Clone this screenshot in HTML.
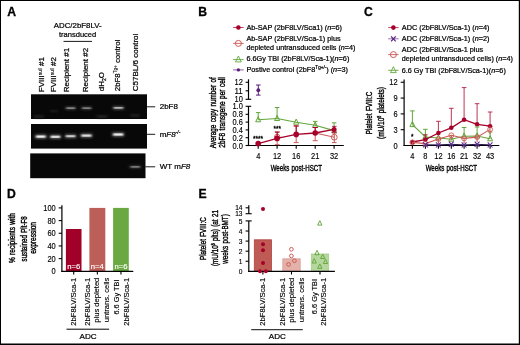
<!DOCTYPE html>
<html lang="en"><head><meta charset="utf-8"><title>Figure</title>
<style>html,body{margin:0;padding:0;background:#fff}svg{display:block}text{font-family:'Liberation Sans', sans-serif}</style>
</head><body>
<svg width="520" height="345" viewBox="0 0 520 345">
<defs><filter id="bl" x="-50%" y="-200%" width="200%" height="500%"><feGaussianBlur stdDeviation="1.0 0.75"/></filter><filter id="bl2" x="-50%" y="-200%" width="200%" height="500%"><feGaussianBlur stdDeviation="1.8 1.3"/></filter></defs>
<rect x="0" y="0" width="520" height="345" fill="#fff"/>
<rect x="0" y="0" width="520" height="1" fill="#000"/><rect x="0" y="0" width="1" height="345" fill="#000"/><rect x="518.8" y="0" width="1.2" height="345" fill="#000"/><rect x="0" y="343.5" width="520" height="1.5" fill="#000"/>
<text font-size="12.2" stroke="#000" stroke-width="0.3" font-weight="bold" x="7.2" y="15.7" >A</text>
<text font-size="12.2" stroke="#000" stroke-width="0.3" font-weight="bold" x="198.3" y="15.7" >B</text>
<text font-size="12.2" stroke="#000" stroke-width="0.3" font-weight="bold" x="363.9" y="15.8" >C</text>
<text font-size="12.2" stroke="#000" stroke-width="0.3" font-weight="bold" x="6.9" y="197.7" >D</text>
<text font-size="12.2" stroke="#000" stroke-width="0.3" font-weight="bold" x="198.5" y="197.7" >E</text>
<text font-size="8" stroke="#000" stroke-width="0.22" text-anchor="middle" textLength="47.8" lengthAdjust="spacingAndGlyphs" x="77.7" y="27.95" >ADC/2bF8LV-</text>
<text font-size="8" stroke="#000" stroke-width="0.22" text-anchor="middle" textLength="37.4" lengthAdjust="spacingAndGlyphs" x="77.6" y="37.35" >transduced</text>
<line x1="63.5" y1="41.4" x2="92" y2="41.4" stroke="#000" stroke-width="0.9" />
<text font-size="8" stroke="#000" stroke-width="0.22" transform="translate(44.2 92.2) rotate(-90)" >FVIII<tspan font-size="4.6" dy="-2.7" stroke-width="0.1">null</tspan><tspan dy="2.7"> #1</tspan></text>
<text font-size="8" stroke="#000" stroke-width="0.22" transform="translate(56.4 92.2) rotate(-90)" >FVIII<tspan font-size="4.6" dy="-2.7" stroke-width="0.1">null</tspan><tspan dy="2.7"> #2</tspan></text>
<text font-size="8" stroke="#000" stroke-width="0.22" textLength="44.3" lengthAdjust="spacingAndGlyphs" transform="translate(69.3 92.2) rotate(-90)" >Recipient #1</text>
<text font-size="8" stroke="#000" stroke-width="0.22" textLength="44.3" lengthAdjust="spacingAndGlyphs" transform="translate(87.7 92.2) rotate(-90)" >Recipient #2</text>
<text font-size="8" stroke="#000" stroke-width="0.22" transform="translate(104.4 91.2) rotate(-90)" >dH<tspan font-size="5" dy="1.6">2</tspan><tspan dy="-1.6">O</tspan></text>
<text font-size="7.85" stroke="#000" stroke-width="0.22" transform="translate(120 91.2) rotate(-90)" >2bF8<tspan font-size="4.6" dy="-2.7" stroke-width="0.1">Tg+</tspan><tspan dy="2.7"> control</tspan></text>
<text font-size="8" stroke="#000" stroke-width="0.22" textLength="57.5" lengthAdjust="spacingAndGlyphs" transform="translate(137.8 91.2) rotate(-90)" >C57BL/6 control</text>
<rect x="31" y="94.3" width="116" height="24.7" fill="#080808"/>
<rect x="31" y="124" width="116" height="24.6" fill="#080808"/>
<rect x="30.2" y="153.4" width="115.3" height="24.8" fill="#080808"/>
<rect x="65.45" y="106.45" width="10.5" height="3.3000000000000003" fill="#3c3c3c" filter="url(#bl2)"/>
<rect x="66.45" y="107.55" width="8.5" height="1.1" fill="#b4b4b4" filter="url(#bl)"/>
<rect x="81.35" y="106.45" width="10.5" height="3.3000000000000003" fill="#383838" filter="url(#bl2)"/>
<rect x="82.35" y="107.55" width="8.5" height="1.1" fill="#acacac" filter="url(#bl)"/>
<rect x="112.9" y="106.15" width="11" height="3.5" fill="#505050" filter="url(#bl2)"/>
<rect x="113.9" y="107.25" width="9" height="1.3" fill="#d8d8d8" filter="url(#bl)"/>
<rect x="34.5" y="115.25" width="9" height="2.5" fill="#242424" filter="url(#bl2)"/>
<rect x="50.0" y="109.75" width="8" height="2.5" fill="#1e1e1e" filter="url(#bl2)"/>
<rect x="97.0" y="115.25" width="10" height="2.5" fill="#262626" filter="url(#bl2)"/>
<rect x="130.5" y="114.25" width="9" height="2.5" fill="#202020" filter="url(#bl2)"/>
<rect x="35.3" y="134.4" width="11" height="4.4" fill="#6c6c6c" filter="url(#bl2)"/>
<rect x="36.3" y="135.5" width="9" height="2.2" fill="#ececec" filter="url(#bl)"/>
<rect x="49.9" y="134.6" width="11" height="4.4" fill="#646464" filter="url(#bl2)"/>
<rect x="50.9" y="135.7" width="9" height="2.2" fill="#dcdcdc" filter="url(#bl)"/>
<rect x="65.1" y="134.1" width="11" height="4.2" fill="#5c5c5c" filter="url(#bl2)"/>
<rect x="66.1" y="135.2" width="9" height="2.0" fill="#cccccc" filter="url(#bl)"/>
<rect x="80.65" y="133.4" width="11.5" height="4.4" fill="#646464" filter="url(#bl2)"/>
<rect x="81.65" y="134.5" width="9.5" height="2.2" fill="#dcdcdc" filter="url(#bl)"/>
<rect x="112.45" y="132.3" width="11.5" height="4.4" fill="#6c6c6c" filter="url(#bl2)"/>
<rect x="113.45" y="133.4" width="9.5" height="2.2" fill="#ececec" filter="url(#bl)"/>
<rect x="129.7" y="165.2" width="11" height="3.4000000000000004" fill="#343434" filter="url(#bl2)"/>
<rect x="130.7" y="166.3" width="9" height="1.2" fill="#9c9c9c" filter="url(#bl)"/>
<line x1="146.9" y1="106.8" x2="155.2" y2="106.8" stroke="#000" stroke-width="0.9" />
<line x1="146.9" y1="134.3" x2="155.2" y2="134.3" stroke="#000" stroke-width="0.9" />
<line x1="145.4" y1="166.8" x2="155.2" y2="166.8" stroke="#000" stroke-width="0.9" />
<text font-size="8" stroke="#000" stroke-width="0.22" x="159.7" y="109.3" >2bF8</text>
<text font-size="8" stroke="#000" stroke-width="0.22" x="159.7" y="136.6" >m<tspan font-style="italic">F8</tspan><tspan font-size="5" dy="-2.8" font-style="italic">-/-</tspan></text>
<text font-size="8" stroke="#000" stroke-width="0.22" x="159.7" y="169.2" >WT m<tspan font-style="italic">F8</tspan></text>
<line x1="233.1" y1="27.5" x2="243.7" y2="27.5" stroke="#C03050" stroke-width="0.9" />
<circle cx="238.4" cy="27.5" r="2.3" fill="#A6002B"/>
<text font-size="7.3" stroke="#000" stroke-width="0.22" x="246.4" y="29.8" >Ab-SAP (2bF8LV/Sca1) (<tspan font-style="italic">n</tspan>=6)</text>
<line x1="233.1" y1="43.4" x2="243.7" y2="43.4" stroke="#CC5B58" stroke-width="0.9" />
<circle cx="238.4" cy="43.4" r="3.0" fill="none" stroke="#CC5B58" stroke-width="1.0"/>
<text font-size="7.3" stroke="#000" stroke-width="0.22" x="246.4" y="41.3" >Ab-SAP (2bF8LV/Sca-1) plus</text>
<text font-size="7.3" stroke="#000" stroke-width="0.22" textLength="109.1" lengthAdjust="spacingAndGlyphs" x="246.4" y="49.6" >depleted untransduced cells (<tspan font-style="italic">n</tspan>=4)</text>
<line x1="233.1" y1="59.6" x2="243.7" y2="59.6" stroke="#64A63C" stroke-width="0.9" />
<polygon points="238.4,55.98 235.5,61.92 241.3,61.92" fill="none" stroke="#64A63C" stroke-width="0.9" stroke-linejoin="miter"/>
<text font-size="7.3" stroke="#000" stroke-width="0.22" x="246.4" y="61.4" >6.6Gy TBI (2bF8LV/Sca-1)(<tspan font-style="italic">n</tspan>=6)</text>
<line x1="233.1" y1="69.9" x2="243.7" y2="69.9" stroke="#7A4A9C" stroke-width="0.9" />
<circle cx="238.4" cy="69.9" r="1.7" fill="#5A1F7A"/>
<text font-size="7.3" stroke="#000" stroke-width="0.22" x="246.4" y="72.0" >Postive control (2bF8<tspan font-size="4.6" dy="-2.6">Tg+/-</tspan><tspan dy="2.6">) (<tspan font-style="italic">n</tspan>=3)</tspan></text>
<line x1="248.5" y1="79.3" x2="248.5" y2="99.3" stroke="#000" stroke-width="1.2" />
<line x1="248.5" y1="106.2" x2="248.5" y2="146.1" stroke="#000" stroke-width="1.2" />
<line x1="245.6" y1="99.3" x2="251.2" y2="99.3" stroke="#000" stroke-width="1.1" />
<line x1="245.6" y1="106.3" x2="251.2" y2="106.3" stroke="#000" stroke-width="1.1" />
<line x1="245.6" y1="82.3" x2="248.5" y2="82.3" stroke="#000" stroke-width="1.1" />
<line x1="245.6" y1="90.8" x2="248.5" y2="90.8" stroke="#000" stroke-width="1.1" />
<line x1="245.6" y1="145.5" x2="248.5" y2="145.5" stroke="#000" stroke-width="1.1" />
<text font-size="8.2" stroke="#000" stroke-width="0.14" text-anchor="end" textLength="10.38" lengthAdjust="spacingAndGlyphs" x="242.8" y="148.6" >0.0</text>
<line x1="245.6" y1="137.7" x2="248.5" y2="137.7" stroke="#000" stroke-width="1.1" />
<text font-size="8.2" stroke="#000" stroke-width="0.14" text-anchor="end" textLength="10.38" lengthAdjust="spacingAndGlyphs" x="242.8" y="140.79999999999998" >0.2</text>
<line x1="245.6" y1="129.9" x2="248.5" y2="129.9" stroke="#000" stroke-width="1.1" />
<text font-size="8.2" stroke="#000" stroke-width="0.14" text-anchor="end" textLength="10.38" lengthAdjust="spacingAndGlyphs" x="242.8" y="133.0" >0.4</text>
<line x1="245.6" y1="122.1" x2="248.5" y2="122.1" stroke="#000" stroke-width="1.1" />
<text font-size="8.2" stroke="#000" stroke-width="0.14" text-anchor="end" textLength="10.38" lengthAdjust="spacingAndGlyphs" x="242.8" y="125.19999999999999" >0.6</text>
<line x1="245.6" y1="114.3" x2="248.5" y2="114.3" stroke="#000" stroke-width="1.1" />
<text font-size="8.2" stroke="#000" stroke-width="0.14" text-anchor="end" textLength="10.38" lengthAdjust="spacingAndGlyphs" x="242.8" y="117.39999999999999" >0.8</text>
<text font-size="8.2" stroke="#000" stroke-width="0.14" text-anchor="end" textLength="10.38" lengthAdjust="spacingAndGlyphs" x="242.8" y="108.9" >1.0</text>
<text font-size="8.2" stroke="#000" stroke-width="0.14" text-anchor="end" textLength="8.3" lengthAdjust="spacingAndGlyphs" x="242.8" y="85.3" >12</text>
<text font-size="8.2" stroke="#000" stroke-width="0.14" text-anchor="end" textLength="8.3" lengthAdjust="spacingAndGlyphs" x="242.8" y="93.8" >11</text>
<text font-size="8.2" stroke="#000" stroke-width="0.14" text-anchor="end" textLength="8.3" lengthAdjust="spacingAndGlyphs" x="242.8" y="102.0" >10</text>
<line x1="247.9" y1="145.5" x2="343.8" y2="145.5" stroke="#000" stroke-width="1.2" />
<line x1="258.2" y1="145.5" x2="258.2" y2="148.8" stroke="#000" stroke-width="1.1" />
<text font-size="8.2" stroke="#000" stroke-width="0.14" text-anchor="middle" textLength="4.15" lengthAdjust="spacingAndGlyphs" x="258.2" y="158.6" >4</text>
<line x1="277.1" y1="145.5" x2="277.1" y2="148.8" stroke="#000" stroke-width="1.1" />
<text font-size="8.2" stroke="#000" stroke-width="0.14" text-anchor="middle" textLength="8.3" lengthAdjust="spacingAndGlyphs" x="277.1" y="158.6" >12</text>
<line x1="296.2" y1="145.5" x2="296.2" y2="148.8" stroke="#000" stroke-width="1.1" />
<text font-size="8.2" stroke="#000" stroke-width="0.14" text-anchor="middle" textLength="8.3" lengthAdjust="spacingAndGlyphs" x="296.2" y="158.6" >16</text>
<line x1="315.2" y1="145.5" x2="315.2" y2="148.8" stroke="#000" stroke-width="1.1" />
<text font-size="8.2" stroke="#000" stroke-width="0.14" text-anchor="middle" textLength="8.3" lengthAdjust="spacingAndGlyphs" x="315.2" y="158.6" >21</text>
<line x1="334.1" y1="145.5" x2="334.1" y2="148.8" stroke="#000" stroke-width="1.1" />
<text font-size="8.2" stroke="#000" stroke-width="0.14" text-anchor="middle" textLength="8.3" lengthAdjust="spacingAndGlyphs" x="334.1" y="158.6" >32</text>
<text font-size="9.2" stroke="#000" stroke-width="0.4" text-anchor="middle" textLength="51.2" lengthAdjust="spacingAndGlyphs" x="296.3" y="171.1" word-spacing="0.9">Weeks post-HSCT</text>
<text font-size="9.2" stroke="#000" stroke-width="0.4" text-anchor="middle" textLength="71" lengthAdjust="spacingAndGlyphs" transform="translate(215.8 112.8) rotate(-90)" word-spacing="0.9">Average copy number of</text>
<text font-size="9.2" stroke="#000" stroke-width="0.4" text-anchor="middle" textLength="70.4" lengthAdjust="spacingAndGlyphs" transform="translate(225.4 112.5) rotate(-90)" word-spacing="0.9">2bF8 transgene per cell</text>
<line x1="258.3" y1="85" x2="258.3" y2="95.1" stroke="#5A1F7A" stroke-width="1" />
<line x1="256.0" y1="85" x2="260.6" y2="85" stroke="#5A1F7A" stroke-width="1" />
<line x1="256.0" y1="95.1" x2="260.6" y2="95.1" stroke="#5A1F7A" stroke-width="1" />
<circle cx="258.3" cy="90.2" r="1.9" fill="#5A1F7A"/>
<line x1="258.2" y1="112.6" x2="258.2" y2="119.8" stroke="#64A63C" stroke-width="1" />
<line x1="255.89999999999998" y1="112.6" x2="260.5" y2="112.6" stroke="#64A63C" stroke-width="1" />
<line x1="277.1" y1="107.5" x2="277.1" y2="118.5" stroke="#64A63C" stroke-width="1" />
<line x1="274.8" y1="107.5" x2="279.40000000000003" y2="107.5" stroke="#64A63C" stroke-width="1" />
<line x1="315.2" y1="121.4" x2="315.2" y2="125.2" stroke="#64A63C" stroke-width="1" />
<line x1="312.9" y1="121.4" x2="317.5" y2="121.4" stroke="#64A63C" stroke-width="1" />
<line x1="334.1" y1="122.8" x2="334.1" y2="130.6" stroke="#64A63C" stroke-width="1" />
<line x1="331.8" y1="122.8" x2="336.40000000000003" y2="122.8" stroke="#64A63C" stroke-width="1" />
<polyline points="258.2,119.8 277.1,118.5 296.2,122.2 315.2,125.2 334.1,130.6" fill="none" stroke="#64A63C" stroke-width="1.1"/>
<polygon points="258.2,116.67 255.7,121.8 260.7,121.8" fill="none" stroke="#64A63C" stroke-width="1.0" stroke-linejoin="miter"/>
<polygon points="277.1,115.38 274.6,120.5 279.6,120.5" fill="none" stroke="#64A63C" stroke-width="1.0" stroke-linejoin="miter"/>
<polygon points="296.2,119.08 293.7,124.2 298.7,124.2" fill="none" stroke="#64A63C" stroke-width="1.0" stroke-linejoin="miter"/>
<polygon points="315.2,122.08 312.7,127.2 317.7,127.2" fill="none" stroke="#64A63C" stroke-width="1.0" stroke-linejoin="miter"/>
<polygon points="334.1,127.47 331.6,132.6 336.6,132.6" fill="none" stroke="#64A63C" stroke-width="1.0" stroke-linejoin="miter"/>
<line x1="277.2" y1="131.8" x2="277.2" y2="144.6" stroke="#CC5B58" stroke-width="0.9" />
<line x1="274.8" y1="131.8" x2="279.59999999999997" y2="131.8" stroke="#CC5B58" stroke-width="0.9" />
<line x1="274.8" y1="144.6" x2="279.59999999999997" y2="144.6" stroke="#CC5B58" stroke-width="0.9" />
<line x1="296.2" y1="126.1" x2="296.2" y2="142.6" stroke="#CC5B58" stroke-width="1" />
<line x1="293.7" y1="126.1" x2="298.7" y2="126.1" stroke="#CC5B58" stroke-width="1" />
<line x1="293.7" y1="142.6" x2="298.7" y2="142.6" stroke="#CC5B58" stroke-width="1" />
<line x1="315.2" y1="127.5" x2="315.2" y2="140.7" stroke="#CC5B58" stroke-width="1" />
<line x1="312.7" y1="127.5" x2="317.7" y2="127.5" stroke="#CC5B58" stroke-width="1" />
<line x1="312.7" y1="140.7" x2="317.7" y2="140.7" stroke="#CC5B58" stroke-width="1" />
<line x1="334.3" y1="133" x2="334.3" y2="142.6" stroke="#CC5B58" stroke-width="1" />
<line x1="332.0" y1="133" x2="336.6" y2="133" stroke="#CC5B58" stroke-width="1" />
<line x1="332.0" y1="142.6" x2="336.6" y2="142.6" stroke="#CC5B58" stroke-width="1" />
<polyline points="315.2,133.0 334.3,137.2" fill="none" stroke="#CC5B58" stroke-width="1.1"/>
<circle cx="277.2" cy="136.9" r="2.7" fill="none" stroke="#CC5B58" stroke-width="1.0"/>
<circle cx="334.3" cy="137.2" r="2.9" fill="none" stroke="#CC5B58" stroke-width="1.0"/>
<line x1="277.2" y1="132.2" x2="277.2" y2="138" stroke="#A6002B" stroke-width="1" />
<line x1="274.9" y1="132.2" x2="279.5" y2="132.2" stroke="#A6002B" stroke-width="1" />
<line x1="296.2" y1="125.9" x2="296.2" y2="134" stroke="#A6002B" stroke-width="1" />
<line x1="293.7" y1="125.9" x2="298.7" y2="125.9" stroke="#A6002B" stroke-width="1" />
<line x1="315.2" y1="127.5" x2="315.2" y2="132" stroke="#A6002B" stroke-width="1" />
<line x1="312.7" y1="127.5" x2="317.7" y2="127.5" stroke="#A6002B" stroke-width="1" />
<line x1="334.3" y1="126.4" x2="334.3" y2="132.2" stroke="#A6002B" stroke-width="0.8" />
<line x1="332.0" y1="126.4" x2="336.6" y2="126.4" stroke="#A6002B" stroke-width="0.8" />
<line x1="332.0" y1="132.2" x2="336.6" y2="132.2" stroke="#A6002B" stroke-width="0.8" />
<polyline points="258.2,143.6 277.1,138.4 296.2,134.4 315.2,133.0 334.1,129.4" fill="none" stroke="#A6002B" stroke-width="1.3"/>
<circle cx="258.2" cy="143.6" r="2.8" fill="#A6002B"/>
<circle cx="277.1" cy="138.4" r="2.8" fill="#A6002B"/>
<circle cx="296.2" cy="134.4" r="2.8" fill="#A6002B"/>
<circle cx="315.2" cy="133.0" r="2.8" fill="#A6002B"/>
<circle cx="334.1" cy="129.4" r="2.5" fill="#A6002B"/>
<text font-size="7.4" stroke="#000" stroke-width="0.35" text-anchor="middle" textLength="10.2" lengthAdjust="spacingAndGlyphs" x="258" y="140.9" >****</text>
<text font-size="7.4" stroke="#000" stroke-width="0.35" text-anchor="middle" textLength="7.4" lengthAdjust="spacingAndGlyphs" x="277.3" y="131.4" >***</text>
<line x1="388.2" y1="27.6" x2="398.6" y2="27.6" stroke="#C03050" stroke-width="0.9" />
<circle cx="393.4" cy="27.6" r="2.3" fill="#A6002B"/>
<text font-size="7.3" stroke="#000" stroke-width="0.22" x="401.8" y="29.8" >ADC (2bF8LV/Sca-1) (<tspan font-style="italic">n</tspan>=4)</text>
<line x1="388.2" y1="38.8" x2="398.6" y2="38.8" stroke="#8A5FA8" stroke-width="0.9" />
<line x1="391.09999999999997" y1="36.3" x2="395.7" y2="41.3" stroke="#5A1F7A" stroke-width="1.2" />
<line x1="391.09999999999997" y1="41.3" x2="395.7" y2="36.3" stroke="#5A1F7A" stroke-width="1.2" />
<text font-size="7.3" stroke="#000" stroke-width="0.22" x="401.8" y="41.3" >ADC (2bF8LV/Sca-1) (<tspan font-style="italic">n</tspan>=2)</text>
<line x1="388.2" y1="54.6" x2="398.6" y2="54.6" stroke="#CC5B58" stroke-width="0.9" />
<circle cx="393.4" cy="54.6" r="3.0" fill="none" stroke="#CC5B58" stroke-width="1.0"/>
<text font-size="7.3" stroke="#000" stroke-width="0.22" x="401.8" y="52.2" >ADC (2bF8LV/Sca-1 plus</text>
<text font-size="7.3" stroke="#000" stroke-width="0.22" textLength="111" lengthAdjust="spacingAndGlyphs" x="401.8" y="60.6" >depleted untransduced cells) (<tspan font-style="italic">n</tspan>=4)</text>
<line x1="388.2" y1="70.3" x2="398.6" y2="70.3" stroke="#64A63C" stroke-width="0.9" />
<polygon points="393.4,66.67 390.5,72.62 396.3,72.62" fill="none" stroke="#64A63C" stroke-width="0.9" stroke-linejoin="miter"/>
<text font-size="7.3" stroke="#000" stroke-width="0.22" textLength="104" lengthAdjust="spacingAndGlyphs" x="401.8" y="72.5" >6.6 Gy TBI (2bF8LV/Sca-1)(<tspan font-style="italic">n</tspan>=6)</text>
<line x1="404.1" y1="79.6" x2="404.1" y2="146.1" stroke="#000" stroke-width="1.2" />
<text font-size="8.2" stroke="#000" stroke-width="0.14" text-anchor="end" textLength="4.15" lengthAdjust="spacingAndGlyphs" x="397.6" y="148.6" >0</text>
<line x1="400.7" y1="129.69" x2="404.1" y2="129.69" stroke="#000" stroke-width="1.1" />
<text font-size="8.2" stroke="#000" stroke-width="0.14" text-anchor="end" textLength="4.15" lengthAdjust="spacingAndGlyphs" x="397.6" y="132.79" >3</text>
<line x1="400.7" y1="113.88" x2="404.1" y2="113.88" stroke="#000" stroke-width="1.1" />
<text font-size="8.2" stroke="#000" stroke-width="0.14" text-anchor="end" textLength="4.15" lengthAdjust="spacingAndGlyphs" x="397.6" y="116.97999999999999" >6</text>
<line x1="400.7" y1="98.07000000000001" x2="404.1" y2="98.07000000000001" stroke="#000" stroke-width="1.1" />
<text font-size="8.2" stroke="#000" stroke-width="0.14" text-anchor="end" textLength="4.15" lengthAdjust="spacingAndGlyphs" x="397.6" y="101.17" >9</text>
<line x1="400.7" y1="82.26" x2="404.1" y2="82.26" stroke="#000" stroke-width="1.1" />
<text font-size="8.2" stroke="#000" stroke-width="0.14" text-anchor="end" textLength="8.3" lengthAdjust="spacingAndGlyphs" x="397.6" y="85.36" >12</text>
<line x1="403.5" y1="145.5" x2="499.3" y2="145.5" stroke="#000" stroke-width="1.2" />
<line x1="412.4" y1="145.5" x2="412.4" y2="148.8" stroke="#000" stroke-width="1.1" />
<text font-size="8.2" stroke="#000" stroke-width="0.14" text-anchor="middle" textLength="4.15" lengthAdjust="spacingAndGlyphs" x="412.4" y="158.6" >4</text>
<line x1="425.4" y1="145.5" x2="425.4" y2="148.8" stroke="#000" stroke-width="1.1" />
<text font-size="8.2" stroke="#000" stroke-width="0.14" text-anchor="middle" textLength="4.15" lengthAdjust="spacingAndGlyphs" x="425.4" y="158.6" >8</text>
<line x1="438.4" y1="145.5" x2="438.4" y2="148.8" stroke="#000" stroke-width="1.1" />
<text font-size="8.2" stroke="#000" stroke-width="0.14" text-anchor="middle" textLength="8.3" lengthAdjust="spacingAndGlyphs" x="438.4" y="158.6" >12</text>
<line x1="451.3" y1="145.5" x2="451.3" y2="148.8" stroke="#000" stroke-width="1.1" />
<text font-size="8.2" stroke="#000" stroke-width="0.14" text-anchor="middle" textLength="8.3" lengthAdjust="spacingAndGlyphs" x="451.3" y="158.6" >16</text>
<line x1="464.1" y1="145.5" x2="464.1" y2="148.8" stroke="#000" stroke-width="1.1" />
<text font-size="8.2" stroke="#000" stroke-width="0.14" text-anchor="middle" textLength="8.3" lengthAdjust="spacingAndGlyphs" x="464.1" y="158.6" >21</text>
<line x1="477.1" y1="145.5" x2="477.1" y2="148.8" stroke="#000" stroke-width="1.1" />
<text font-size="8.2" stroke="#000" stroke-width="0.14" text-anchor="middle" textLength="8.3" lengthAdjust="spacingAndGlyphs" x="477.1" y="158.6" >32</text>
<line x1="490.1" y1="145.5" x2="490.1" y2="148.8" stroke="#000" stroke-width="1.1" />
<text font-size="8.2" stroke="#000" stroke-width="0.14" text-anchor="middle" textLength="8.3" lengthAdjust="spacingAndGlyphs" x="490.1" y="158.6" >43</text>
<text font-size="9.2" stroke="#000" stroke-width="0.4" text-anchor="middle" textLength="51.2" lengthAdjust="spacingAndGlyphs" x="451.3" y="171.1" word-spacing="0.9">Weeks post-HSCT</text>
<text font-size="9.2" stroke="#000" stroke-width="0.4" text-anchor="middle" textLength="42.7" lengthAdjust="spacingAndGlyphs" transform="translate(371.5 113) rotate(-90)" word-spacing="0.9">Platelet FVIII:C</text>
<text font-size="9.2" stroke="#000" stroke-width="0.4" text-anchor="middle" textLength="52" lengthAdjust="spacingAndGlyphs" transform="translate(383.6 113) rotate(-90)" word-spacing="0.9">(mU/10<tspan font-size="5" dy="-3">8</tspan><tspan dy="3"> platelets)</tspan></text>
<line x1="412.4" y1="110.9" x2="412.4" y2="124.6" stroke="#64A63C" stroke-width="1" />
<line x1="410.09999999999997" y1="110.9" x2="414.7" y2="110.9" stroke="#64A63C" stroke-width="1" />
<line x1="425.4" y1="129.3" x2="425.4" y2="137" stroke="#64A63C" stroke-width="1" />
<line x1="423.09999999999997" y1="129.3" x2="427.7" y2="129.3" stroke="#64A63C" stroke-width="1" />
<line x1="464.1" y1="127.5" x2="464.1" y2="136.2" stroke="#64A63C" stroke-width="1" />
<line x1="461.8" y1="127.5" x2="466.40000000000003" y2="127.5" stroke="#64A63C" stroke-width="1" />
<line x1="477.1" y1="127" x2="477.1" y2="136" stroke="#64A63C" stroke-width="1" />
<line x1="474.8" y1="127" x2="479.40000000000003" y2="127" stroke="#64A63C" stroke-width="1" />
<line x1="490.1" y1="132" x2="490.1" y2="138.8" stroke="#64A63C" stroke-width="1" />
<line x1="487.8" y1="132" x2="492.40000000000003" y2="132" stroke="#64A63C" stroke-width="1" />
<polyline points="412.4,124.6 425.4,137 438.4,138 451.3,139.2 464.1,136.2 477.1,136 490.1,138.8" fill="none" stroke="#64A63C" stroke-width="1.1"/>
<polygon points="412.4,121.47 409.9,126.6 414.9,126.6" fill="none" stroke="#64A63C" stroke-width="1.0" stroke-linejoin="miter"/>
<polygon points="425.4,133.88 422.9,139.0 427.9,139.0" fill="none" stroke="#64A63C" stroke-width="1.0" stroke-linejoin="miter"/>
<polygon points="438.4,134.88 435.9,140.0 440.9,140.0" fill="none" stroke="#64A63C" stroke-width="1.0" stroke-linejoin="miter"/>
<polygon points="451.3,136.07 448.8,141.2 453.8,141.2" fill="none" stroke="#64A63C" stroke-width="1.0" stroke-linejoin="miter"/>
<polygon points="464.1,133.07 461.6,138.2 466.6,138.2" fill="none" stroke="#64A63C" stroke-width="1.0" stroke-linejoin="miter"/>
<polygon points="477.1,132.88 474.6,138.0 479.6,138.0" fill="none" stroke="#64A63C" stroke-width="1.0" stroke-linejoin="miter"/>
<polygon points="490.1,135.68 487.6,140.8 492.6,140.8" fill="none" stroke="#64A63C" stroke-width="1.0" stroke-linejoin="miter"/>
<line x1="425.4" y1="134.8" x2="425.4" y2="139.6" stroke="#B21E46" stroke-width="0.9" />
<line x1="423.09999999999997" y1="134.8" x2="427.7" y2="134.8" stroke="#B21E46" stroke-width="0.9" />
<line x1="438.4" y1="121.3" x2="438.4" y2="133" stroke="#B21E46" stroke-width="0.9" />
<line x1="436.09999999999997" y1="121.3" x2="440.7" y2="121.3" stroke="#B21E46" stroke-width="0.9" />
<line x1="451.3" y1="108.3" x2="451.3" y2="127.8" stroke="#B21E46" stroke-width="0.9" />
<line x1="449.0" y1="108.3" x2="453.6" y2="108.3" stroke="#B21E46" stroke-width="0.9" />
<line x1="464.1" y1="87.6" x2="464.1" y2="119.7" stroke="#B21E46" stroke-width="0.9" />
<line x1="461.8" y1="87.6" x2="466.40000000000003" y2="87.6" stroke="#B21E46" stroke-width="0.9" />
<line x1="477.1" y1="103.7" x2="477.1" y2="124.3" stroke="#B21E46" stroke-width="0.9" />
<line x1="474.8" y1="103.7" x2="479.40000000000003" y2="103.7" stroke="#B21E46" stroke-width="0.9" />
<line x1="490.1" y1="112" x2="490.1" y2="126.2" stroke="#B21E46" stroke-width="0.9" />
<line x1="487.8" y1="112" x2="492.40000000000003" y2="112" stroke="#B21E46" stroke-width="0.9" />
<polyline points="412.4,142 425.4,139.6 438.4,133 451.3,127.8 464.1,119.7 477.1,124.3 490.1,126.2" fill="none" stroke="#A6002B" stroke-width="1.3"/>
<circle cx="412.4" cy="142" r="2.3" fill="#A6002B"/>
<circle cx="425.4" cy="139.6" r="2.3" fill="#A6002B"/>
<circle cx="438.4" cy="133" r="2.3" fill="#A6002B"/>
<circle cx="451.3" cy="127.8" r="2.3" fill="#A6002B"/>
<circle cx="464.1" cy="119.7" r="2.3" fill="#A6002B"/>
<circle cx="477.1" cy="124.3" r="2.3" fill="#A6002B"/>
<circle cx="490.1" cy="126.2" r="2.3" fill="#A6002B"/>
<line x1="412.4" y1="142.4" x2="412.4" y2="145" stroke="#CC5B58" stroke-width="1" />
<line x1="425.4" y1="143.6" x2="425.4" y2="145" stroke="#CC5B58" stroke-width="1" />
<line x1="438.4" y1="139" x2="438.4" y2="144" stroke="#CC5B58" stroke-width="1" />
<line x1="451.3" y1="135.3" x2="451.3" y2="140.3" stroke="#CC5B58" stroke-width="1" />
<line x1="464.1" y1="138.4" x2="464.1" y2="143.4" stroke="#CC5B58" stroke-width="1" />
<line x1="477.1" y1="137.1" x2="477.1" y2="142.1" stroke="#CC5B58" stroke-width="1" />
<line x1="490.1" y1="129.4" x2="490.1" y2="134.4" stroke="#CC5B58" stroke-width="1" />
<polyline points="412.4,142.4 425.4,143.6 438.4,139 451.3,135.3 464.1,138.4 477.1,137.1 490.1,129.4" fill="none" stroke="#CC5B58" stroke-width="1.1"/>
<circle cx="412.4" cy="142.4" r="2.45" fill="none" stroke="#CC5B58" stroke-width="0.9"/>
<circle cx="425.4" cy="143.6" r="2.45" fill="none" stroke="#CC5B58" stroke-width="0.9"/>
<circle cx="438.4" cy="139" r="2.45" fill="none" stroke="#CC5B58" stroke-width="0.9"/>
<circle cx="451.3" cy="135.3" r="2.45" fill="none" stroke="#CC5B58" stroke-width="0.9"/>
<circle cx="464.1" cy="138.4" r="2.45" fill="none" stroke="#CC5B58" stroke-width="0.9"/>
<circle cx="477.1" cy="137.1" r="2.45" fill="none" stroke="#CC5B58" stroke-width="0.9"/>
<circle cx="490.1" cy="129.4" r="2.45" fill="none" stroke="#CC5B58" stroke-width="0.9"/>
<polyline points="425.4,144.8 438.4,144.9 451.3,144.3 464.1,144.9 477.1,144.3 490.1,144.9" fill="none" stroke="#2A1650" stroke-width="1.0"/>
<line x1="423.008" y1="142.20000000000002" x2="427.792" y2="147.4" stroke="#5E2D91" stroke-width="1.1" />
<line x1="423.008" y1="147.4" x2="427.792" y2="142.20000000000002" stroke="#5E2D91" stroke-width="1.1" />
<line x1="436.008" y1="142.3" x2="440.792" y2="147.5" stroke="#5E2D91" stroke-width="1.1" />
<line x1="436.008" y1="147.5" x2="440.792" y2="142.3" stroke="#5E2D91" stroke-width="1.1" />
<line x1="448.908" y1="141.70000000000002" x2="453.692" y2="146.9" stroke="#5E2D91" stroke-width="1.1" />
<line x1="448.908" y1="146.9" x2="453.692" y2="141.70000000000002" stroke="#5E2D91" stroke-width="1.1" />
<line x1="461.708" y1="142.3" x2="466.492" y2="147.5" stroke="#5E2D91" stroke-width="1.1" />
<line x1="461.708" y1="147.5" x2="466.492" y2="142.3" stroke="#5E2D91" stroke-width="1.1" />
<line x1="474.708" y1="141.70000000000002" x2="479.492" y2="146.9" stroke="#5E2D91" stroke-width="1.1" />
<line x1="474.708" y1="146.9" x2="479.492" y2="141.70000000000002" stroke="#5E2D91" stroke-width="1.1" />
<line x1="487.708" y1="142.3" x2="492.492" y2="147.5" stroke="#5E2D91" stroke-width="1.1" />
<line x1="487.708" y1="147.5" x2="492.492" y2="142.3" stroke="#5E2D91" stroke-width="1.1" />
<text font-size="6.4" stroke="#000" stroke-width="0.3" text-anchor="middle" x="412.3" y="138.9" >*</text>
<line x1="61.9" y1="205.2" x2="61.9" y2="271.90000000000003" stroke="#000" stroke-width="1.2" />
<text font-size="8.2" stroke="#000" stroke-width="0.14" text-anchor="end" textLength="4.15" lengthAdjust="spacingAndGlyphs" x="55.7" y="274.3" >0</text>
<line x1="58.7" y1="258.62" x2="61.9" y2="258.62" stroke="#000" stroke-width="1.1" />
<text font-size="8.2" stroke="#000" stroke-width="0.14" text-anchor="end" textLength="8.3" lengthAdjust="spacingAndGlyphs" x="55.7" y="261.62" >20</text>
<line x1="58.7" y1="245.94" x2="61.9" y2="245.94" stroke="#000" stroke-width="1.1" />
<text font-size="8.2" stroke="#000" stroke-width="0.14" text-anchor="end" textLength="8.3" lengthAdjust="spacingAndGlyphs" x="55.7" y="248.94" >40</text>
<line x1="58.7" y1="233.26000000000002" x2="61.9" y2="233.26000000000002" stroke="#000" stroke-width="1.1" />
<text font-size="8.2" stroke="#000" stroke-width="0.14" text-anchor="end" textLength="8.3" lengthAdjust="spacingAndGlyphs" x="55.7" y="236.26000000000002" >60</text>
<line x1="58.7" y1="220.58" x2="61.9" y2="220.58" stroke="#000" stroke-width="1.1" />
<text font-size="8.2" stroke="#000" stroke-width="0.14" text-anchor="end" textLength="8.3" lengthAdjust="spacingAndGlyphs" x="55.7" y="223.58" >80</text>
<line x1="58.7" y1="207.9" x2="61.9" y2="207.9" stroke="#000" stroke-width="1.1" />
<text font-size="8.2" stroke="#000" stroke-width="0.14" text-anchor="end" textLength="12.45" lengthAdjust="spacingAndGlyphs" x="55.7" y="210.9" >100</text>
<rect x="65.9" y="229" width="15.6" height="42.3" fill="#A10028"/>
<rect x="89.4" y="207.9" width="15.9" height="63.4" fill="#BC5F58"/>
<rect x="113.1" y="207.9" width="15.7" height="63.4" fill="#6AA842"/>
<line x1="61.3" y1="271.3" x2="133.3" y2="271.3" stroke="#000" stroke-width="1.2" />
<line x1="73.7" y1="271.3" x2="73.7" y2="274.5" stroke="#000" stroke-width="1.1" />
<text font-size="7.7" stroke="#fff" stroke-width="0.15" text-anchor="middle" fill="#fff" x="73.7" y="269.2" >n=6</text>
<line x1="97.35" y1="271.3" x2="97.35" y2="274.5" stroke="#000" stroke-width="1.1" />
<text font-size="7.7" stroke="#fff" stroke-width="0.15" text-anchor="middle" fill="#fff" x="97.35" y="269.2" >n=4</text>
<line x1="120.95" y1="271.3" x2="120.95" y2="274.5" stroke="#000" stroke-width="1.1" />
<text font-size="7.7" stroke="#fff" stroke-width="0.15" text-anchor="middle" fill="#fff" x="120.95" y="269.2" >n=6</text>
<text font-size="9.2" stroke="#000" stroke-width="0.4" text-anchor="middle" textLength="50.0" lengthAdjust="spacingAndGlyphs" transform="translate(15.2 238.1) rotate(-90)" word-spacing="0.9">% recipients with</text>
<text font-size="9.2" stroke="#000" stroke-width="0.4" text-anchor="middle" textLength="45.0" lengthAdjust="spacingAndGlyphs" transform="translate(26.6 238.9) rotate(-90)" word-spacing="0.9">sustained Plt-F8</text>
<text font-size="9.2" stroke="#000" stroke-width="0.4" text-anchor="middle" textLength="31.8" lengthAdjust="spacingAndGlyphs" transform="translate(36.2 237.9) rotate(-90)" word-spacing="0.9">expression</text>
<text font-size="7.5" stroke="#000" stroke-width="0.14" text-anchor="end" textLength="48" lengthAdjust="spacingAndGlyphs" transform="translate(75.7 277.7) rotate(-90)" >2bF8LV/Sca-1</text>
<text font-size="7.5" stroke="#000" stroke-width="0.14" text-anchor="end" textLength="48" lengthAdjust="spacingAndGlyphs" transform="translate(89.6 277.7) rotate(-90)" >2bF8LV/Sca-1</text>
<text font-size="7.5" stroke="#000" stroke-width="0.14" text-anchor="end" textLength="45" lengthAdjust="spacingAndGlyphs" transform="translate(99.2 277.7) rotate(-90)" >plus depleted</text>
<text font-size="7.5" stroke="#000" stroke-width="0.14" text-anchor="end" textLength="44.5" lengthAdjust="spacingAndGlyphs" transform="translate(109.1 277.7) rotate(-90)" >untrans. cells</text>
<text font-size="7.5" stroke="#000" stroke-width="0.14" text-anchor="end" textLength="35.2" lengthAdjust="spacingAndGlyphs" transform="translate(118.8 279.4) rotate(-90)" >6.6 Gy TBI</text>
<text font-size="7.5" stroke="#000" stroke-width="0.14" text-anchor="end" textLength="48" lengthAdjust="spacingAndGlyphs" transform="translate(128.6 277.7) rotate(-90)" >2bF8LV/Sca-1</text>
<line x1="66.5" y1="329.2" x2="109.1" y2="329.2" stroke="#000" stroke-width="1.0" />
<text font-size="8.1" stroke="#000" stroke-width="0.22" text-anchor="middle" x="88.1" y="338.8" >ADC</text>
<line x1="248.8" y1="205.2" x2="248.8" y2="213.7" stroke="#000" stroke-width="1.2" />
<line x1="248.8" y1="220.9" x2="248.8" y2="271.95000000000005" stroke="#000" stroke-width="1.2" />
<line x1="245.6" y1="213.7" x2="251.7" y2="213.7" stroke="#000" stroke-width="1.1" />
<line x1="245.6" y1="220.9" x2="251.7" y2="220.9" stroke="#000" stroke-width="1.1" />
<line x1="245.6" y1="207.8" x2="248.8" y2="207.8" stroke="#000" stroke-width="1.1" />
<text font-size="7.6" stroke="#000" stroke-width="0.14" text-anchor="end" textLength="3.7" lengthAdjust="spacingAndGlyphs" x="242.5" y="274.15000000000003" >0</text>
<line x1="245.6" y1="261.27000000000004" x2="248.8" y2="261.27000000000004" stroke="#000" stroke-width="1.1" />
<text font-size="7.6" stroke="#000" stroke-width="0.14" text-anchor="end" textLength="3.7" lengthAdjust="spacingAndGlyphs" x="242.5" y="264.07000000000005" >1</text>
<line x1="245.6" y1="251.19000000000003" x2="248.8" y2="251.19000000000003" stroke="#000" stroke-width="1.1" />
<text font-size="7.6" stroke="#000" stroke-width="0.14" text-anchor="end" textLength="3.7" lengthAdjust="spacingAndGlyphs" x="242.5" y="253.99000000000004" >2</text>
<line x1="245.6" y1="241.11" x2="248.8" y2="241.11" stroke="#000" stroke-width="1.1" />
<text font-size="7.6" stroke="#000" stroke-width="0.14" text-anchor="end" textLength="3.7" lengthAdjust="spacingAndGlyphs" x="242.5" y="243.91000000000003" >3</text>
<line x1="245.6" y1="231.03000000000003" x2="248.8" y2="231.03000000000003" stroke="#000" stroke-width="1.1" />
<text font-size="7.6" stroke="#000" stroke-width="0.14" text-anchor="end" textLength="3.7" lengthAdjust="spacingAndGlyphs" x="242.5" y="233.83000000000004" >4</text>
<text font-size="7.6" stroke="#000" stroke-width="0.14" text-anchor="end" textLength="3.7" lengthAdjust="spacingAndGlyphs" x="242.5" y="223.9" >5</text>
<text font-size="7.3" stroke="#000" stroke-width="0.14" text-anchor="end" textLength="7.3" lengthAdjust="spacingAndGlyphs" x="242.5" y="210.1" >14</text>
<text font-size="7.3" stroke="#000" stroke-width="0.14" text-anchor="end" textLength="7.3" lengthAdjust="spacingAndGlyphs" x="242.5" y="216.4" >13</text>
<rect x="254.3" y="239.8" width="17.2" height="31.55" fill="#BF5B55" stroke="#B0403F" stroke-width="0.8"/>
<rect x="282.79999999999995" y="258.79999999999995" width="17.4" height="12.55" fill="#E4B1A8" stroke="#DDA198" stroke-width="0.8"/>
<rect x="311.29999999999995" y="254.0" width="17.4" height="17.35" fill="#B5D79D" stroke="#A5CB8A" stroke-width="0.8"/>
<line x1="248.20000000000002" y1="271.35" x2="334.9" y2="271.35" stroke="#000" stroke-width="1.2" />
<line x1="262.9" y1="271.35" x2="262.9" y2="274.5" stroke="#000" stroke-width="1.1" />
<line x1="291.5" y1="271.35" x2="291.5" y2="274.5" stroke="#000" stroke-width="1.1" />
<line x1="320.0" y1="271.35" x2="320.0" y2="274.5" stroke="#000" stroke-width="1.1" />
<circle cx="263.0" cy="208.9" r="2.0" fill="#A6002B"/>
<circle cx="263.0" cy="244.2" r="2.0" fill="#A6002B"/>
<circle cx="263.0" cy="250.2" r="2.0" fill="#A6002B"/>
<circle cx="263.0" cy="263.1" r="2.0" fill="#A6002B"/>
<circle cx="260.0" cy="271.3" r="2.0" fill="#A6002B"/>
<circle cx="265.9" cy="271.3" r="2.0" fill="#A6002B"/>
<circle cx="291.4" cy="249.3" r="1.85" fill="none" stroke="#CC5B58" stroke-width="1.0"/>
<circle cx="291.4" cy="255.9" r="1.85" fill="none" stroke="#CC5B58" stroke-width="1.0"/>
<circle cx="294.4" cy="260.8" r="1.85" fill="none" stroke="#CC5B58" stroke-width="1.0"/>
<circle cx="288.6" cy="264.4" r="1.85" fill="none" stroke="#CC5B58" stroke-width="1.0"/>
<polygon points="319.8,220.71 317.65,225.12 321.95,225.12" fill="none" stroke="#64A63C" stroke-width="0.95" stroke-linejoin="miter"/>
<polygon points="317,250.31 314.85,254.72 319.15,254.72" fill="none" stroke="#64A63C" stroke-width="0.95" stroke-linejoin="miter"/>
<polygon points="322.7,254.11 320.55,258.52 324.85,258.52" fill="none" stroke="#64A63C" stroke-width="0.95" stroke-linejoin="miter"/>
<polygon points="314.2,258.61 312.05,263.02 316.35,263.02" fill="none" stroke="#64A63C" stroke-width="0.95" stroke-linejoin="miter"/>
<polygon points="325.5,259.11 323.35,263.52 327.65,263.52" fill="none" stroke="#64A63C" stroke-width="0.95" stroke-linejoin="miter"/>
<polygon points="319.8,263.91 317.65,268.32 321.95,268.32" fill="none" stroke="#64A63C" stroke-width="0.95" stroke-linejoin="miter"/>
<text font-size="9.2" stroke="#000" stroke-width="0.4" text-anchor="middle" textLength="42.7" lengthAdjust="spacingAndGlyphs" transform="translate(205.9 238.6) rotate(-90)" word-spacing="0.9">Platelet FVIII:C</text>
<text font-size="9.2" stroke="#000" stroke-width="0.4" text-anchor="middle" textLength="56" lengthAdjust="spacingAndGlyphs" transform="translate(217.6 238) rotate(-90)" word-spacing="0.9">(mU/10<tspan font-size="5" dy="-3">8</tspan><tspan dy="3"> plts) (at 21</tspan></text>
<text font-size="9.2" stroke="#000" stroke-width="0.4" text-anchor="middle" textLength="49.6" lengthAdjust="spacingAndGlyphs" transform="translate(227.6 239.0) rotate(-90)" word-spacing="0.9">weeks post-BMT)</text>
<text font-size="7.5" stroke="#000" stroke-width="0.14" text-anchor="end" textLength="48" lengthAdjust="spacingAndGlyphs" transform="translate(265.2 277.7) rotate(-90)" >2bF8LV/Sca-1</text>
<text font-size="7.5" stroke="#000" stroke-width="0.14" text-anchor="end" textLength="48" lengthAdjust="spacingAndGlyphs" transform="translate(284.5 277.7) rotate(-90)" >2bF8LV/Sca-1</text>
<text font-size="7.5" stroke="#000" stroke-width="0.14" text-anchor="end" textLength="45" lengthAdjust="spacingAndGlyphs" transform="translate(293.9 277.7) rotate(-90)" >plus depleted</text>
<text font-size="7.5" stroke="#000" stroke-width="0.14" text-anchor="end" textLength="44.5" lengthAdjust="spacingAndGlyphs" transform="translate(303.6 277.7) rotate(-90)" >untrans. cells</text>
<text font-size="7.5" stroke="#000" stroke-width="0.14" text-anchor="end" textLength="35.2" lengthAdjust="spacingAndGlyphs" transform="translate(317.3 279.0) rotate(-90)" >6.6 Gy TBI</text>
<text font-size="7.5" stroke="#000" stroke-width="0.14" text-anchor="end" textLength="48" lengthAdjust="spacingAndGlyphs" transform="translate(326.4 277.7) rotate(-90)" >2bF8LV/Sca-1</text>
<line x1="251.2" y1="329.7" x2="302.8" y2="329.7" stroke="#3c3c3c" stroke-width="1.3" />
<text font-size="8.1" stroke="#000" stroke-width="0.22" text-anchor="middle" x="277.3" y="339.0" >ADC</text>
</svg>
</body></html>
